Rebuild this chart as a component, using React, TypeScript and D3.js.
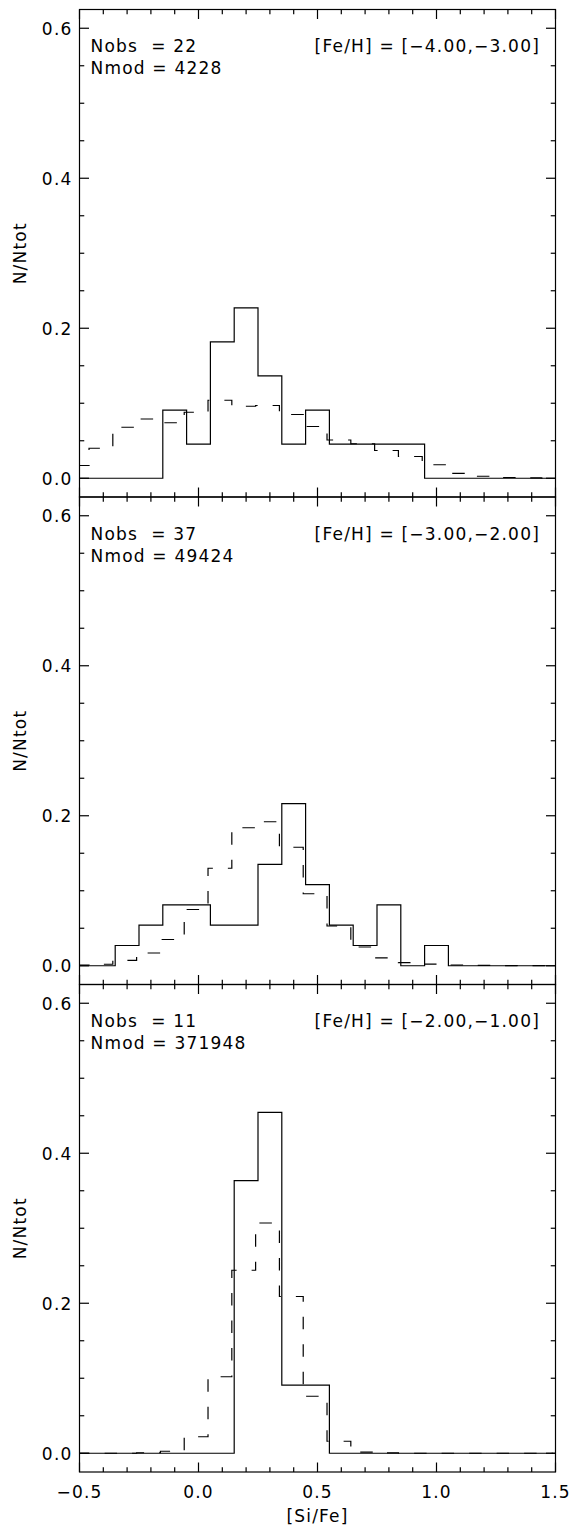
import React from "react";
import * as d3 from "d3";

// ---------- data ----------
const obsCenters = [-0.5, -0.4, -0.3, -0.2, -0.1, 0.0, 0.1, 0.2, 0.3, 0.4, 0.5, 0.6, 0.7, 0.8, 0.9, 1.0, 1.1, 1.2, 1.3, 1.4, 1.5];
const modCenters = [-0.51, -0.41, -0.31, -0.21, -0.11, -0.01, 0.09, 0.19, 0.29, 0.39, 0.49, 0.59, 0.69, 0.79, 0.89, 0.99, 1.09, 1.19, 1.29, 1.39, 1.49];

const obsTop = [0, 0, 0, 0, 0.0909, 0.0455, 0.1818, 0.2273, 0.1364, 0.0455, 0.0909, 0.0455, 0.0455, 0.0455, 0.0455, 0, 0, 0, 0, 0, 0];
const modTop = [0.017, 0.040, 0.068, 0.079, 0.074, 0.088, 0.104, 0.096, 0.097, 0.085, 0.069, 0.051, 0.046, 0.037, 0.029, 0.018, 0.0065, 0.0027, 0.001, 0.0005, 0.0002];

const obsMid = [0, 0, 0.0270, 0.0541, 0.0811, 0.0811, 0.0541, 0.0541, 0.1351, 0.2162, 0.1081, 0.0541, 0.0270, 0.0811, 0, 0.0270, 0, 0, 0, 0, 0];
const modMid = [0.001, 0.002, 0.0073, 0.017, 0.035, 0.075, 0.130, 0.184, 0.192, 0.158, 0.096, 0.053, 0.025, 0.0104, 0.0042, 0.0022, 0.001, 0.0005, 0.0003, 0.0002, 0.0001];

const obsBot = [0, 0, 0, 0, 0, 0, 0, 0.3636, 0.4545, 0.0909, 0.0909, 0, 0, 0, 0, 0, 0, 0, 0, 0, 0];
const modBot = [0, 0, 0, 0.0007, 0.0027, 0.022, 0.102, 0.244, 0.307, 0.209, 0.076, 0.016, 0.0015, 0.0005, 0, 0, 0, 0, 0, 0, 0];

const nObs = ["22", "37", "11"];
const nMod = ["4228", "49424", "371948"];
const feRanges = ["[Fe/H] = [\u22124.00,\u22123.00]", "[Fe/H] = [\u22123.00,\u22122.00]", "[Fe/H] = [\u22122.00,\u22121.00]"];

const yMajor = [0.0, 0.2, 0.4, 0.6];
const yMajorLabels = ["0.0", "0.2", "0.4", "0.6"];
const yMinor = [0.05, 0.1, 0.15, 0.25, 0.3, 0.35, 0.45, 0.5, 0.55];
const xMajor = [-0.5, 0.0, 0.5, 1.0, 1.5];
const xMajorLabels = ["\u22120.5", "0.0", "0.5", "1.0", "1.5"];
const xMinor = [-0.4, -0.3, -0.2, -0.1, 0.1, 0.2, 0.3, 0.4, 0.6, 0.7, 0.8, 0.9, 1.1, 1.2, 1.3, 1.4];

const panels = [
  { obs: obsTop, mod: modTop },
  { obs: obsMid, mod: modMid },
  { obs: obsBot, mod: modBot },
];

// ---------- layout ----------
const W = 570;
const H = 1528;
const left = 79.5;
const right = 555.5;
const top0 = 9.5;
const panelH = 487.5;
const majLen = 9.5;
const minLen = 4.75;
const font = "'DejaVu Sans', sans-serif";
const fs = 17;
const ls = 1.2;

export default function App() {
  const x = d3.scaleLinear().domain([-0.5, 1.5]).range([left, right]);

  return (
    <svg
      width={W}
      height={H}
      style={{ position: "absolute", left: 0, top: 0, background: "#fff" }}
      fontFamily={font}
    >
      <rect x={0} y={0} width={W} height={H} fill="#fff" />
      {panels.map((p, i) => {
        const pt = top0 + i * panelH;
        const pb = pt + panelH;
        const y = d3.scaleLinear().domain([-0.025, 0.625]).range([pb, pt]);
        const line = d3
          .line<[number, number]>()
          .x((d) => x(d[0]))
          .y((d) => y(d[1]))
          .curve(d3.curveStep);
        const obsPts = obsCenters.map((c, k) => [c, p.obs[k]] as [number, number]);
        const modPts = modCenters.map((c, k) => [c, p.mod[k]] as [number, number]);
        const clipId = `clip${i}`;
        return (
          <g key={i}>
            <defs>
              <clipPath id={clipId}>
                <rect x={left} y={pt} width={right - left} height={panelH} />
              </clipPath>
            </defs>
            <g clipPath={`url(#${clipId})`}>
              <path d={line(modPts) || ""} fill="none" stroke="#000" strokeWidth={1.2} strokeDasharray="12.5 15" />
              <path d={line(obsPts) || ""} fill="none" stroke="#000" strokeWidth={1.2} />
            </g>
            <rect x={left} y={pt} width={right - left} height={panelH} fill="none" stroke="#000" strokeWidth={1.2} />
            {/* y ticks */}
            {yMajor.map((v, k) => (
              <g key={"ym" + k}>
                <line x1={left} x2={left + majLen} y1={y(v)} y2={y(v)} stroke="#000" strokeWidth={1.2} />
                <line x1={right} x2={right - majLen} y1={y(v)} y2={y(v)} stroke="#000" strokeWidth={1.2} />
                <text
                  x={72.5}
                  y={y(v) + 6.3}
                  textAnchor="end"
                  fontSize={fs}
                  letterSpacing={ls}
                  fill="#000"
                >
                  {yMajorLabels[k]}
                </text>
              </g>
            ))}
            {yMinor.map((v, k) => (
              <g key={"yn" + k}>
                <line x1={left} x2={left + minLen} y1={y(v)} y2={y(v)} stroke="#000" strokeWidth={1.2} />
                <line x1={right} x2={right - minLen} y1={y(v)} y2={y(v)} stroke="#000" strokeWidth={1.2} />
              </g>
            ))}
            {/* x ticks */}
            {xMajor.map((v, k) => (
              <g key={"xm" + k}>
                <line x1={x(v)} x2={x(v)} y1={pt} y2={pt + majLen} stroke="#000" strokeWidth={1.2} />
                <line x1={x(v)} x2={x(v)} y1={pb} y2={pb - majLen} stroke="#000" strokeWidth={1.2} />
              </g>
            ))}
            {xMinor.map((v, k) => (
              <g key={"xn" + k}>
                <line x1={x(v)} x2={x(v)} y1={pt} y2={pt + minLen} stroke="#000" strokeWidth={1.2} />
                <line x1={x(v)} x2={x(v)} y1={pb} y2={pb - minLen} stroke="#000" strokeWidth={1.2} />
              </g>
            ))}
            {/* annotations */}
            <text x={90.5} y={pt + 42.8} fontSize={fs} letterSpacing={ls} fill="#000" style={{ whiteSpace: "pre" }}>
              {`Nobs  = ${nObs[i]}`}
            </text>
            <text x={90.5} y={pt + 64.5} fontSize={fs} letterSpacing={ls} fill="#000" style={{ whiteSpace: "pre" }}>
              {`Nmod = ${nMod[i]}`}
            </text>
            <text x={540} y={pt + 42.8} fontSize={fs} letterSpacing={ls} textAnchor="end" fill="#000" style={{ whiteSpace: "pre" }}>
              {feRanges[i]}
            </text>
            {/* y title */}
            <text
              transform={`translate(25.5, ${(pt + pb) / 2}) rotate(-90)`}
              textAnchor="middle"
              fontSize={fs}
              letterSpacing={ls}
              fill="#000"
            >
              N/Ntot
            </text>
            {/* x labels on bottom panel */}
            {i === panels.length - 1 &&
              xMajor.map((v, k) => (
                <text key={"xl" + k} x={x(v)} y={pb + 26} textAnchor="middle" fontSize={fs} letterSpacing={ls} fill="#000">
                  {xMajorLabels[k]}
                </text>
              ))}
            {i === panels.length - 1 && (
              <text x={(left + right) / 2} y={pb + 50} textAnchor="middle" fontSize={fs} letterSpacing={ls} fill="#000">
                [Si/Fe]
              </text>
            )}
          </g>
        );
      })}
    </svg>
  );
}
